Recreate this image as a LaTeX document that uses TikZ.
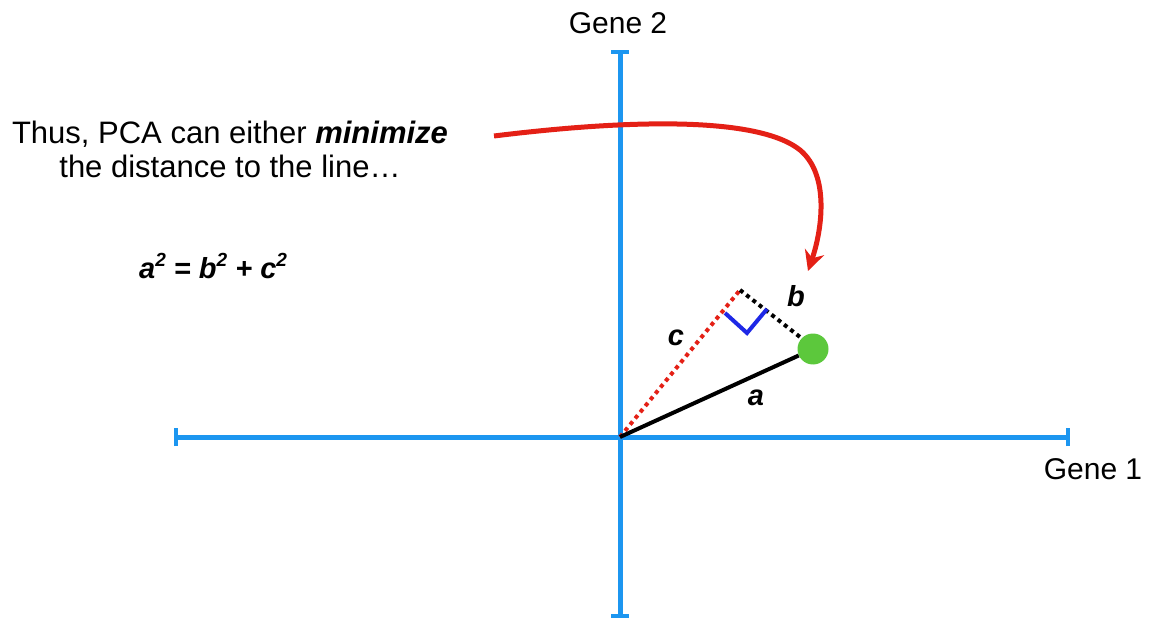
\documentclass[tikz,border=0pt]{standalone}
\usepackage{fontspec}
\setmainfont{Liberation Sans}
\usetikzlibrary{arrows.meta}
\definecolor{axisblue}{RGB}{28,150,240}
\definecolor{arrowred}{RGB}{228,32,22}
\definecolor{dotgreen}{RGB}{92,200,60}
\definecolor{markblue}{RGB}{30,40,230}
\newcommand{\sqr}{\raisebox{0.42em}{\fontsize{19}{20}\selectfont 2}}
\tikzset{
  axisline/.style={draw=axisblue,line width=5pt},
  axiscap/.style={draw=axisblue,line width=4pt},
  lbl/.style={font=\fontsize{30}{34}\selectfont,inner sep=0pt},
  txtlbl/.style={font=\fontsize{31}{34}\selectfont,inner sep=0pt},
  var/.style={font=\fontsize{29}{32}\selectfont\bfseries\itshape,inner sep=0pt},
  reddot/.style={draw=arrowred,line width=4pt,dash pattern=on 4pt off 4pt},
  blackdot/.style={draw=black,line width=4pt,dash pattern=on 4pt off 4pt}
}
\begin{document}
\begin{tikzpicture}[x=1pt,y=-1pt]
\useasboundingbox (0,0) rectangle (1151,636);
% axes
\coordinate (O) at (620,437);
\coordinate (ytop) at (620,52);
\coordinate (ybot) at (620,616);
\coordinate (xl) at (176,437);
\coordinate (xr) at (1068,437);
\draw[axisline] (ytop) -- (ybot);
\draw[axisline] (xl) -- (xr);
\draw[axiscap] ([xshift=-9pt]ytop) -- ([xshift=9pt]ytop);
\draw[axiscap] ([xshift=-9pt]ybot) -- ([xshift=9pt]ybot);
\draw[axiscap] ([yshift=-9pt]xl) -- ([yshift=9pt]xl);
\draw[axiscap] ([yshift=-9pt]xr) -- ([yshift=9pt]xr);
\node[lbl] (g2) at (618,23) {Gene 2};
\node[lbl] (g1) at (1093,469) {Gene 1};
% triangle
\coordinate (P) at (740,290);
\node[circle,fill=dotgreen,minimum size=31pt,inner sep=0pt] (pt) at (813,349) {};
\draw[reddot] (O) -- (P);
\draw[blackdot] (P) -- (800,337);
\draw[line width=4pt] (O) -- (pt);
\draw[markblue,line width=4pt] (725,313) -- (747,333) -- (767,309);
\node[var] (lc) at (676,338) {c};
\node[var] (lb) at (796,296) {b};
\node[var] (la) at (756,398) {a};
% text
\node[txtlbl,align=center] (txt) at (230,149) {Thus, PCA can either \textbf{\textit{minimize}}\\the distance to the line…};
\node[var,anchor=west] (eq) at (139,266) {a\sqr{} = b\sqr{} + c\sqr};
% arrow
\coordinate (as) at (494,136);
\coordinate (ae) at (808,271);
\draw[arrowred,line width=5pt,-{Stealth[length=20pt,width=20pt]}] (as) .. controls (640,118) and (760,118) .. (800,150) .. controls (830,175) and (822,230) .. (ae);
\end{tikzpicture}
\end{document}
